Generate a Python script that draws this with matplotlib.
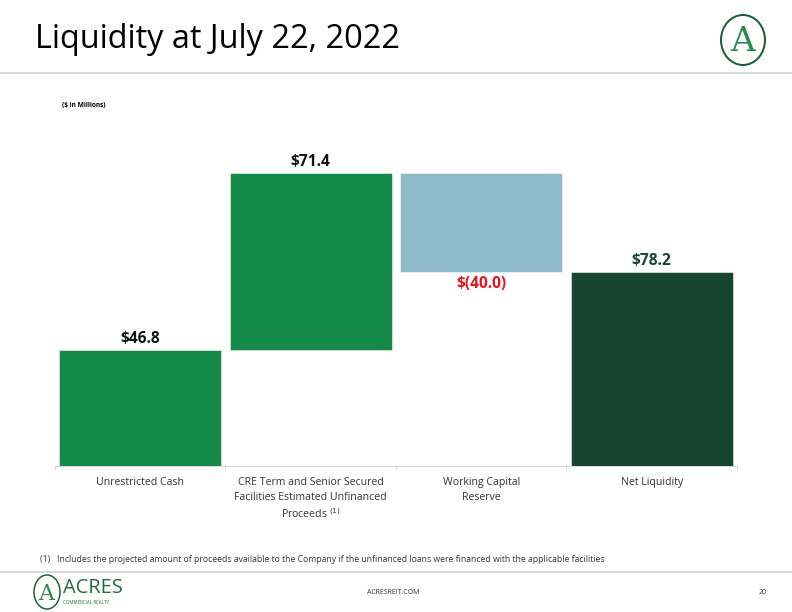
import matplotlib.pyplot as plt
from matplotlib.patches import Ellipse

categories = ['Unrestricted Cash',
              'CRE Term and Senior Secured\nFacilities Estimated Unfinanced\nProceeds $^{(1)}$',
              'Working Capital\nReserve',
              'Net Liquidity']
values = [46.8, 71.4, -40.0, 78.2]
labels = ['$46.8', '$71.4', '$(40.0)', '$78.2']
colors = ['#158a48', '#158a48', '#8fb8ca', '#174532']
label_colors = ['#111111', '#111111', '#e8141c', '#174532']

plt.rcParams['font.family'] = ['Open Sans', 'DejaVu Sans']

# waterfall: bottoms from running total, last bar is the total
bottoms, heights = [], []
run = 0
for i, v in enumerate(values):
    if i == len(values) - 1:
        bottoms.append(0)
        heights.append(v)
    elif v >= 0:
        bottoms.append(run)
        heights.append(v)
        run += v
    else:
        run += v
        bottoms.append(run)
        heights.append(-v)

fig = plt.figure(figsize=(11, 8.5), dpi=72)
ax = fig.add_axes([0.0694, 0.2386, 0.8611, 0.5327])
x = list(range(len(values)))
ax.bar(x, heights, bottom=bottoms, width=0.95, color=colors, edgecolor='white', linewidth=0.5)
ax.set_xlim(-0.5, 3.5)
ax.set_ylim(0, 131.4)

for i in x:
    top = bottoms[i] + heights[i]
    if values[i] < 0:
        ax.text(i, bottoms[i] - 1.5, labels[i], ha='center', va='top', fontsize=15.5,
                fontweight='bold', color=label_colors[i])
    else:
        ax.text(i, top + 1.0, labels[i], ha='center', va='bottom', fontsize=15.5,
                fontweight='bold', color=label_colors[i])

ax.set_xticks([-0.5, 0.5, 1.5, 2.5, 3.5])
ax.set_xticklabels([])
ax.set_xticks(x, minor=True)
ax.set_xticklabels(categories, minor=True, fontsize=10.5, color='#333333', va='top', linespacing=1.45)
ax.tick_params(axis='x', which='major', length=4, color='#d0d0d0', direction='out')
ax.tick_params(axis='x', which='minor', length=0, pad=11)
ax.set_yticks([])
for s in ['top', 'right', 'left']:
    ax.spines[s].set_visible(False)
ax.spines['bottom'].set_color('#d0d0d0')

# header
fig.text(35 / 792, 1 - 40 / 612, 'Liquidity at July 22, 2022', fontsize=32.5, va='center', ha='left', color='black')
fig.add_artist(plt.Line2D([0, 1], [1 - 73 / 612] * 2, color='#d9d9d9', lw=2))
fig.text(62 / 792, 1 - 105 / 612, '($ in Millions)', fontsize=6.5, fontweight='bold', va='center')

# logo top right
fig.add_artist(Ellipse((743 / 792, 1 - 40 / 612), 44 / 792, 50 / 612, fill=False,
                       edgecolor='#1d5e3a', lw=2))
fig.text(742 / 792, 1 - 42 / 612, 'A', fontsize=34, family='DejaVu Serif', color='#2a8a4e',
         ha='center', va='center')

# footnote and footer
fig.text(40 / 792, 1 - 559 / 612, '(1)   Includes the projected amount of proceeds available to the Company if the unfinanced loans were financed with the applicable facilities',
         fontsize=8.6, color='#333333', va='center')
fig.add_artist(plt.Line2D([0, 1], [1 - 572 / 612] * 2, color='#d9d9d9', lw=2))
fig.add_artist(Ellipse((47 / 792, 1 - 592 / 612), 26 / 792, 34 / 612, fill=False,
                       edgecolor='#1d5e3a', lw=1.5))
fig.text(46 / 792, 1 - 594 / 612, 'A', fontsize=22, family='DejaVu Serif', color='#2a8a4e',
         ha='center', va='center')
fig.text(63 / 792, 1 - 588 / 612, 'ACRES', fontsize=20, color='#1f6b3e', va='center')
fig.text(63 / 792, 1 - 603 / 612, 'COMMERCIAL REALTY', fontsize=4.5, color='#1f6b3e', va='center')
fig.text(393 / 792, 1 - 592 / 612, 'ACRESREIT.COM', fontsize=7, color='#333333', ha='center', va='center')
fig.text(763 / 792, 1 - 592 / 612, '20', fontsize=7, color='#333333', ha='center', va='center')

fig.savefig('out.png', dpi=72)
